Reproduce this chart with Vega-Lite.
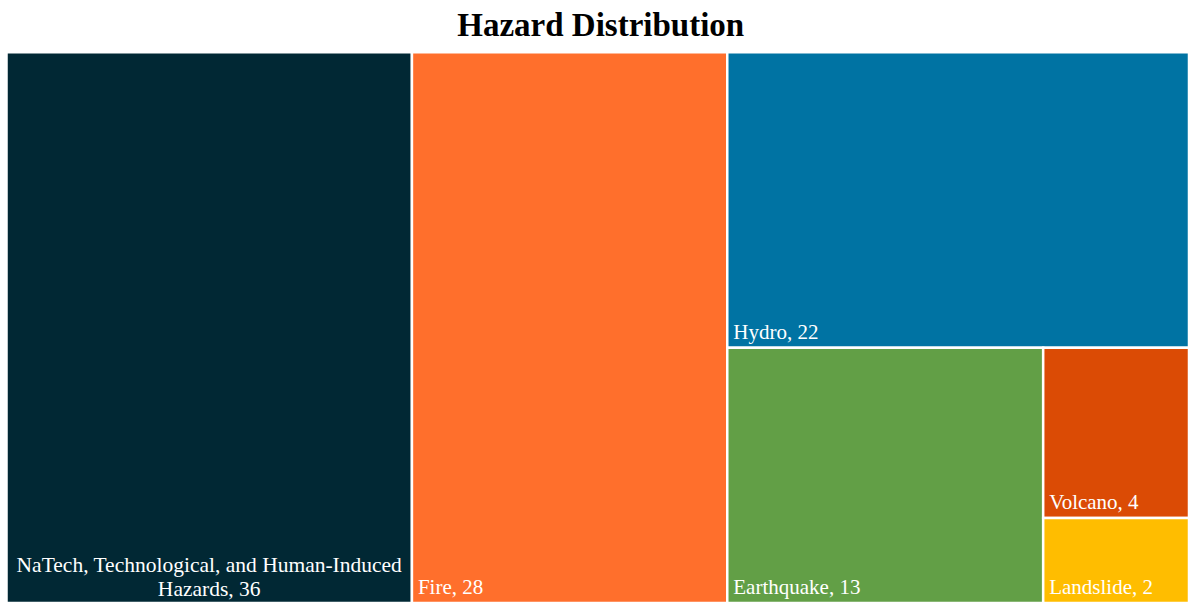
{
  "$schema": "https://vega.github.io/schema/vega-lite/v6.json",
  "autosize": {"type": "none"},
  "width": 1182.5,
  "height": 550.75,
  "padding": {"left": 6.5, "right": 0, "top": 52.25, "bottom": 0},
  "background": "white",
  "config": {"view": {"stroke": null}},
  "title": {
    "text": "Hazard Distribution",
    "font": "Liberation Serif",
    "fontSize": 33,
    "fontWeight": "bold",
    "color": "#000000",
    "anchor": "middle",
    "dx": 3,
    "offset": 8
  },
  "data": {
    "values": [
      {"name": "NaTech, Technological, and Human-Induced Hazards", "value": 36, "l1": "NaTech", "l2": "NaTech", "l3": "NaTech"},
      {"name": "Fire", "value": 28, "l1": "Fire", "l2": "Fire", "l3": "Fire"},
      {"name": "Hydro", "value": 22, "l1": "Rest", "l2": "Hydro", "l3": "Hydro"},
      {"name": "Earthquake", "value": 13, "l1": "Rest", "l2": "Lower", "l3": "Earthquake"},
      {"name": "Volcano", "value": 4, "l1": "Rest", "l2": "Lower", "l3": "Small"},
      {"name": "Landslide", "value": 2, "l1": "Rest", "l2": "Lower", "l3": "Small"}
    ]
  },
  "transform": [
    {"joinaggregate": [{"op": "sum", "field": "value", "as": "total"}]},
    {"stack": "value", "groupby": [], "sort": [{"field": "value", "order": "descending"}], "as": ["a0", "a1"]},
    {"joinaggregate": [{"op": "min", "field": "a0", "as": "L1s"}, {"op": "max", "field": "a1", "as": "L1e"}, {"op": "sum", "field": "value", "as": "L1sum"}], "groupby": ["l1"]},
    {"stack": "value", "groupby": ["l1"], "sort": [{"field": "value", "order": "descending"}], "as": ["b0", "b1"]},
    {"joinaggregate": [{"op": "min", "field": "b0", "as": "L2s"}, {"op": "max", "field": "b1", "as": "L2e"}, {"op": "sum", "field": "value", "as": "L2sum"}], "groupby": ["l1", "l2"]},
    {"stack": "value", "groupby": ["l1", "l2"], "sort": [{"field": "value", "order": "descending"}], "as": ["c0", "c1"]},
    {"joinaggregate": [{"op": "min", "field": "c0", "as": "L3s"}, {"op": "max", "field": "c1", "as": "L3e"}, {"op": "sum", "field": "value", "as": "L3sum"}], "groupby": ["l1", "l2", "l3"]},
    {"stack": "value", "groupby": ["l1", "l2", "l3"], "sort": [{"field": "value", "order": "descending"}], "as": ["d0", "d1"]},
    {"calculate": "datum.L1s / datum.total", "as": "X0"},
    {"calculate": "datum.L1e / datum.total", "as": "X1"},
    {"calculate": "datum.L2s / datum.L1sum", "as": "Y0"},
    {"calculate": "datum.L2e / datum.L1sum", "as": "Y1"},
    {"calculate": "datum.X0 + (datum.X1 - datum.X0) * datum.L3s / datum.L2sum", "as": "x0"},
    {"calculate": "datum.X0 + (datum.X1 - datum.X0) * datum.L3e / datum.L2sum", "as": "x1"},
    {"calculate": "datum.Y0 + (datum.Y1 - datum.Y0) * datum.d0 / datum.L3sum", "as": "y0"},
    {"calculate": "datum.Y0 + (datum.Y1 - datum.Y0) * datum.d1 / datum.L3sum", "as": "y1"},
    {"calculate": "(datum.x0 + datum.x1) / 2", "as": "xc"},
    {"calculate": "length(datum.name) > 30 ? slice(datum.name, 0, lastindexof(datum.name, ' ')) + '\\n' + slice(datum.name, lastindexof(datum.name, ' ') + 1) + ', ' + datum.value : datum.name + ', ' + datum.value", "as": "label"},
    {"calculate": "length(datum.name) > 30", "as": "wrapped"}
  ],
  "layer": [
    {
      "mark": {"type": "rect", "stroke": "white", "strokeWidth": 2.5},
      "encoding": {
        "x": {"field": "x0", "type": "quantitative", "scale": {"domain": [0, 1], "nice": false}, "axis": null},
        "x2": {"field": "x1"},
        "y": {"field": "y0", "type": "quantitative", "scale": {"domain": [0, 1], "nice": false, "reverse": true}, "axis": null},
        "y2": {"field": "y1"},
        "color": {
          "field": "name",
          "type": "nominal",
          "legend": null,
          "scale": {
            "domain": ["NaTech, Technological, and Human-Induced Hazards", "Fire", "Hydro", "Earthquake", "Volcano", "Landslide"],
            "range": ["#012834", "#FF6F2C", "#0073A3", "#629F46", "#DB4B05", "#FFBD00"]
          }
        }
      }
    },
    {
      "transform": [{"filter": "!datum.wrapped"}],
      "mark": {"type": "text", "font": "Liberation Serif", "fontSize": 21, "color": "white", "align": "left", "baseline": "alphabetic", "dx": 6, "dy": -9},
      "encoding": {
        "x": {"field": "x0", "type": "quantitative"},
        "y": {"field": "y1", "type": "quantitative"},
        "text": {"field": "label", "type": "nominal"}
      }
    },
    {
      "transform": [{"filter": "datum.wrapped"}],
      "mark": {"type": "text", "font": "Liberation Serif", "fontSize": 21.5, "color": "white", "align": "center", "baseline": "alphabetic", "lineBreak": "\n", "lineHeight": 24, "dy": -31},
      "encoding": {
        "x": {"field": "xc", "type": "quantitative"},
        "y": {"field": "y1", "type": "quantitative"},
        "text": {"field": "label", "type": "nominal"}
      }
    }
  ]
}
